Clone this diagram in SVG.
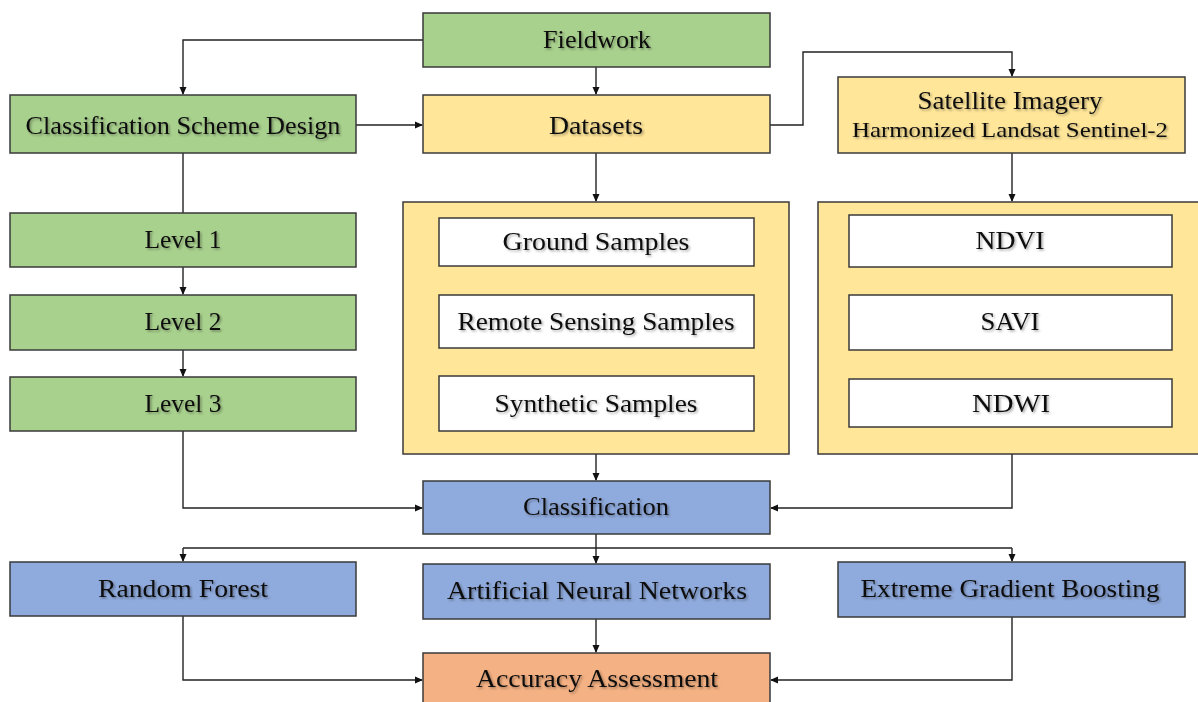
<svg xmlns="http://www.w3.org/2000/svg" width="1198" height="702" viewBox="0 0 1198 702">
<style>
.box{stroke:#3a3a3a;stroke-width:1.5}
.g{fill:#a9d18e}.y{fill:#ffe699}.b{fill:#8faadc}.o{fill:#f4b183}.w{fill:#ffffff}
text{font-family:"Liberation Serif","Times New Roman",serif;font-size:26px;fill:#111;text-anchor:middle;filter:url(#sh)}
.c{fill:none;stroke:#222;stroke-width:1.4}
</style>
<defs>
<filter id="sh" x="-10%" y="-30%" width="120%" height="160%">
<feDropShadow dx="1.5" dy="1.5" stdDeviation="1" flood-color="#000" flood-opacity="0.35"/>
</filter>
<marker id="ah" markerWidth="8" markerHeight="8" refX="7" refY="4" orient="auto" markerUnits="userSpaceOnUse">
<path d="M0,0.5 L8,4 L0,7.5 Z" fill="#111"/>
</marker>
</defs>
<g id="connectors">
<path class="c" d="M423,40 H183 V94" marker-end="url(#ah)"/>
<path class="c" d="M596,67 V94" marker-end="url(#ah)"/>
<path class="c" d="M356,125 H422" marker-end="url(#ah)"/>
<path class="c" d="M770,125 H803 V52 H1012 V76" marker-end="url(#ah)"/>
<path class="c" d="M183,153 V213"/>
<path class="c" d="M183,267 V294" marker-end="url(#ah)"/>
<path class="c" d="M183,350 V376" marker-end="url(#ah)"/>
<path class="c" d="M596,153 V201" marker-end="url(#ah)"/>
<path class="c" d="M1012,153 V201" marker-end="url(#ah)"/>
<path class="c" d="M439,242 H415 V322 H439"/>
<path class="c" d="M596,348 V375" marker-end="url(#ah)"/>
<path class="c" d="M183,431 V508 H422" marker-end="url(#ah)"/>
<path class="c" d="M596,454 V480" marker-end="url(#ah)"/>
<path class="c" d="M1012,454 V508 H771" marker-end="url(#ah)"/>
<path class="c" d="M596,534 V563" marker-end="url(#ah)"/>
<path class="c" d="M183,548 H1012"/>
<path class="c" d="M183,548 V561" marker-end="url(#ah)"/>
<path class="c" d="M1012,548 V561" marker-end="url(#ah)"/>
<path class="c" d="M183,616 V680 H422" marker-end="url(#ah)"/>
<path class="c" d="M596,619 V652" marker-end="url(#ah)"/>
<path class="c" d="M1012,617 V680 H771" marker-end="url(#ah)"/>
</g>
<g id="fieldwork"><rect class="box g" x="423" y="13" width="347" height="54"/><text x="597" y="48" textLength="108" lengthAdjust="spacingAndGlyphs">Fieldwork</text></g>
<g id="scheme"><rect class="box g" x="10" y="95" width="346" height="58"/><text x="183" y="134" textLength="315" lengthAdjust="spacingAndGlyphs">Classification Scheme Design</text></g>
<g id="datasets"><rect class="box y" x="423" y="95" width="347" height="58"/><text x="596" y="134" textLength="94" lengthAdjust="spacingAndGlyphs">Datasets</text></g>
<g id="satellite"><rect class="box y" x="838" y="77" width="347" height="76"/><text x="1010" y="109" textLength="185" lengthAdjust="spacingAndGlyphs">Satellite Imagery</text><text x="1010" y="137" style="font-size:22px" textLength="316" lengthAdjust="spacingAndGlyphs">Harmonized Landsat Sentinel-2</text></g>
<g id="level1"><rect class="box g" x="10" y="213" width="346" height="54"/><text x="183" y="248" textLength="77" lengthAdjust="spacingAndGlyphs">Level 1</text></g>
<g id="level2"><rect class="box g" x="10" y="295" width="346" height="55"/><text x="183" y="330" textLength="77" lengthAdjust="spacingAndGlyphs">Level 2</text></g>
<g id="level3"><rect class="box g" x="10" y="377" width="346" height="54"/><text x="183" y="412" textLength="77" lengthAdjust="spacingAndGlyphs">Level 3</text></g>
<g id="samples">
<rect class="box y" x="403" y="202" width="386" height="252"/>
<g id="ground"><rect class="box w" x="439" y="218" width="315" height="48"/><text x="596" y="250" textLength="187" lengthAdjust="spacingAndGlyphs">Ground Samples</text></g>
<g id="remote"><rect class="box w" x="439" y="295" width="315" height="53"/><text x="596" y="330" textLength="277" lengthAdjust="spacingAndGlyphs">Remote Sensing Samples</text></g>
<g id="synthetic"><rect class="box w" x="439" y="376" width="315" height="55"/><text x="596" y="412" textLength="203" lengthAdjust="spacingAndGlyphs">Synthetic Samples</text></g>
</g>
<g id="indices">
<rect class="box y" x="818" y="202" width="386" height="252"/>
<g id="ndvi"><rect class="box w" x="849" y="215" width="323" height="52"/><text x="1010" y="249" textLength="69" lengthAdjust="spacingAndGlyphs">NDVI</text></g>
<g id="savi"><rect class="box w" x="849" y="295" width="323" height="55"/><text x="1010" y="330" textLength="59" lengthAdjust="spacingAndGlyphs">SAVI</text></g>
<g id="ndwi"><rect class="box w" x="849" y="379" width="323" height="48"/><text x="1011" y="412" textLength="78" lengthAdjust="spacingAndGlyphs">NDWI</text></g>
</g>
<g id="classification"><rect class="box b" x="423" y="481" width="347" height="53"/><text x="596" y="515" textLength="146" lengthAdjust="spacingAndGlyphs">Classification</text></g>
<g id="rf"><rect class="box b" x="10" y="562" width="346" height="54"/><text x="183" y="597" textLength="170" lengthAdjust="spacingAndGlyphs">Random Forest</text></g>
<g id="ann"><rect class="box b" x="423" y="564" width="347" height="55"/><text x="597" y="599" textLength="300" lengthAdjust="spacingAndGlyphs">Artificial Neural Networks</text></g>
<g id="xgb"><rect class="box b" x="838" y="562" width="347" height="55"/><text x="1010" y="597" textLength="299" lengthAdjust="spacingAndGlyphs">Extreme Gradient Boosting</text></g>
<g id="accuracy"><rect class="box o" x="423" y="653" width="347" height="60"/><text x="597" y="687" textLength="242" lengthAdjust="spacingAndGlyphs">Accuracy Assessment</text></g>
</svg>
